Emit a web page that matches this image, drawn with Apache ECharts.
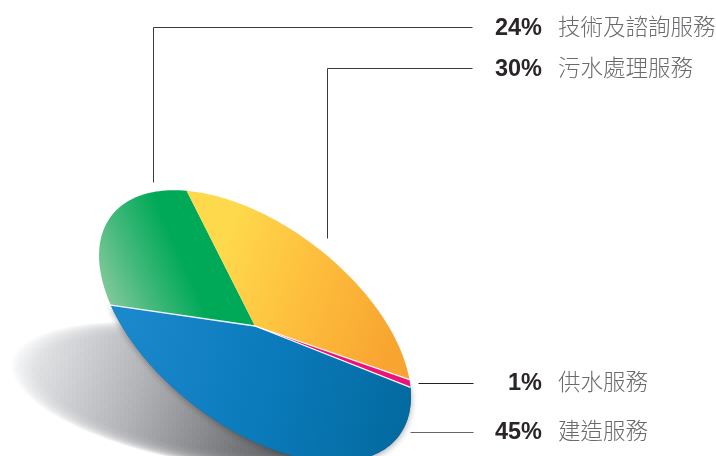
<!DOCTYPE html>
<html>
<head>
<meta charset="utf-8">
<style>html,body{margin:0;padding:0;background:#fff}#chart{width:716px;height:456px}</style>
<script src="https://cdn.jsdelivr.net/npm/echarts@6/dist/echarts.min.js"></script>
</head>
<body>
<div id="chart"></div>
<script>
// Revenue mix by service line, listed clockwise from the green wedge.
const categories = ['技術及諮詢服務', '污水處理服務', '供水服務', '建造服務'];
const shares = [24, 30, 1, 45];

// Tilted disc geometry.
const disc = { cx: 255, cy: 326, a: 181, b: 100, tilt: 37.5 * Math.PI / 180, start: 225.4 };
const rowY = [27, 68, 382, 431];
const leaders = [
  [[472, 27], [153, 27], [153, 182]],
  [[472, 68], [327, 68], [327, 238]],
  [[418, 383], [473, 383]],
  [[410, 432], [473, 432]]
];
const leaderColors = ['#3a3a3a', '#3a3a3a', '#222222', '#666666'];

const grad = (x, y, x2, y2, stops) => new echarts.graphic.LinearGradient(
  x, y, x2, y2, stops.map(c => ({ offset: c[0], color: c[1] })), true);

const fills = [
  grad(100, 285, 178, 250, [[0, '#82c99a'], [0.45, '#45b97c'], [1, '#00a957']]),
  grad(215, 265, 400, 330, [[0, '#ffd94c'], [0.5, '#fdbd3c'], [1, '#f8a430']]),
  '#ec1277',
  grad(120, 330, 410, 410, [[0, '#1c88cc'], [0.5, '#0b7bbc'], [1, '#036a9f']])
];

function discPoint(deg) {
  const f = deg * Math.PI / 180;
  const ca = disc.a * Math.cos(f), sb = disc.b * Math.sin(f);
  const c = Math.cos(disc.tilt), n = Math.sin(disc.tilt);
  return [disc.cx + ca * c + sb * n, disc.cy + ca * n - sb * c];
}

function wedgeRange(index) {
  const before = shares.slice(0, index).reduce((p, v) => p + v, 0);
  const total = shares.reduce((p, v) => p + v, 0);
  return [disc.start - before / total * 360, disc.start - (before + shares[index]) / total * 360];
}

function wedgePoints(index) {
  const [from, to] = wedgeRange(index);
  const pts = [[disc.cx, disc.cy]];
  const steps = Math.max(4, Math.ceil((from - to) / 1.5));
  for (let k = 0; k <= steps; k++) pts.push(discPoint(from + (to - from) * k / steps));
  return pts;
}

function renderWedge(params) {
  const i = params.dataIndex;
  return { type: 'polygon', shape: { points: wedgePoints(i) }, style: { fill: fills[i] } };
}

// White hairlines where the pink wedge and the blue wedge meet their neighbours.
function renderGaps() {
  const edges = [wedgeRange(1)[1], wedgeRange(2)[1], wedgeRange(3)[1]];
  return {
    type: 'group',
    children: edges.map(deg => ({
      type: 'line',
      shape: { x1: disc.cx, y1: disc.cy, x2: discPoint(deg)[0], y2: discPoint(deg)[1] },
      style: { stroke: 'rgba(255,255,255,0.95)', lineWidth: 1.3, fill: null }
    }))
  };
}

// Soft ground shadow built from stacked translucent ellipses, plus the
// tight contact shadow under the blue wedge.
function renderShadow() {
  const layers = [];
  const count = 40;
  const rot = 10 * Math.PI / 180, c = Math.cos(rot), n = Math.sin(rot);
  const fill = grad(30, 350, 300, 450, [[0, '#dfe1e3'], [0.4, '#adaeb2'], [0.8, '#6f7073'], [1, '#555659']]);
  for (let k = 0; k < count; k++) {
    const s = 1 - k * 0.0065;
    const pts = [];
    for (let d = 0; d < 360; d += 4) {
      const ex = 196 * s * Math.cos(d * Math.PI / 180), ey = 67 * s * Math.sin(d * Math.PI / 180);
      pts.push([205 + ex * c - ey * n, 396 + ex * n + ey * c]);
    }
    layers.push({ type: 'polygon', shape: { points: pts }, style: { fill, opacity: 0.085 } });
  }
  layers.push({
    type: 'polygon',
    shape: { points: wedgePoints(3) },
    style: { fill: '#036a9f', shadowColor: 'rgba(40,40,45,0.4)', shadowBlur: 6, shadowOffsetX: 0, shadowOffsetY: 2 }
  });
  return { type: 'group', children: layers };
}

function renderLabel(params) {
  const i = params.dataIndex;
  return {
    type: 'group',
    children: [
      { type: 'polyline', shape: { points: leaders[i].map(p => [p[0] + 0.5, p[1] + 0.5]) },
        style: { stroke: leaderColors[i], lineWidth: 1, fill: null } },
      { type: 'text', x: 542, y: rowY[i] + 1.5, style: {
        text: shares[i] + '%', align: 'right', verticalAlign: 'middle', fill: '#2a2526',
        font: 'bold 23.5px "Liberation Sans", Arial, sans-serif' } },
      { type: 'text', x: 558, y: rowY[i] - 1, style: {
        text: categories[i], align: 'left', verticalAlign: 'middle', fill: '#6a6b6e',
        font: '300 22.5px "Noto Sans CJK TC", sans-serif' } }
    ]
  };
}

const chart = echarts.init(document.getElementById('chart'), null, { renderer: 'canvas' });
chart.setOption({
  animation: false,
  backgroundColor: '#ffffff',
  series: [
    { type: 'custom', coordinateSystem: 'none', z: 1, silent: true, data: [1], renderItem: renderShadow },
    { type: 'custom', coordinateSystem: 'none', z: 2, silent: true,
      data: categories.map((c, i) => ({ name: c, value: shares[i] })), renderItem: renderWedge },
    { type: 'custom', coordinateSystem: 'none', z: 3, silent: true, data: [1], renderItem: renderGaps },
    { type: 'custom', coordinateSystem: 'none', z: 4, silent: true,
      data: categories.map((c, i) => ({ name: c, value: shares[i] })), renderItem: renderLabel }
  ]
});
</script>
</body>
</html>
